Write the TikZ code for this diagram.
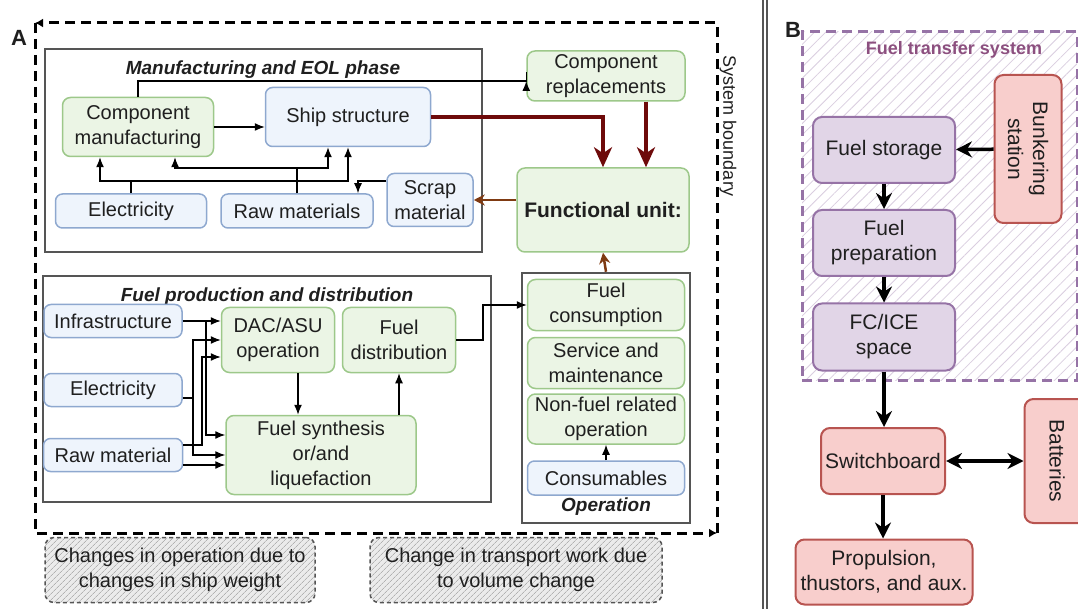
\documentclass[tikz,border=0pt]{standalone}
\usepackage{fontspec}
\setmainfont{Liberation Sans}
\usetikzlibrary{arrows.meta,patterns.meta}
\definecolor{grnF}{HTML}{EBF5E5}
\definecolor{grnD}{HTML}{9DC88A}
\definecolor{bluF}{HTML}{EEF4FC}
\definecolor{bluD}{HTML}{8EA8CF}
\definecolor{purF}{HTML}{E1D5E7}
\definecolor{purD}{HTML}{9673A6}
\definecolor{redF}{HTML}{F8CECC}
\definecolor{redD}{HTML}{B85450}
\definecolor{frmG}{HTML}{555555}
\definecolor{dRed}{HTML}{6E0A0A}
\definecolor{brn}{HTML}{7F3A12}
\definecolor{purT}{HTML}{8C4F7F}
\definecolor{txt}{HTML}{1F1F1F}
\tikzset{
    every node/.style={font=\fontsize{20}{25}\selectfont, text=txt},
    GR1/.style ={rectangle, rounded corners=8pt, draw=grnD, fill=grnF, line width=1.5pt, align=center, inner sep=1pt},
    BL1/.style ={rectangle, rounded corners=7pt, draw=bluD, fill=bluF, line width=1.5pt, align=center, inner sep=1pt},
    PU1/.style ={rectangle, rounded corners=9pt, draw=purD, fill=purF, line width=2pt, align=center, font=\fontsize{21}{25}\selectfont},
    RE1/.style ={rectangle, rounded corners=9pt, draw=redD, fill=redF, line width=2pt, align=center, font=\fontsize{21}{25}\selectfont},
    FR1/.style ={rectangle, draw=frmG, line width=2.5pt},
    TT1/.style ={font=\fontsize{19}{22}\selectfont\bfseries\itshape},
    NT1/.style ={rectangle, rounded corners=9pt, draw=frmG, line width=1.5pt, dash pattern=on 4pt off 3pt,
        preaction={fill=black!8}, pattern={Lines[angle=45,distance=4pt,line width=0.7pt]}, pattern color=black!30, align=center},
    SB1/.style ={draw=black, line width=3pt, dash pattern=on 10pt off 6pt, -{Latex[length=8pt,width=9pt]}},
    AR1/.style ={-{Latex[length=10pt,width=8pt]}, line width=1.3pt},
    AR2/.style ={-{Stealth[length=20pt,width=18pt,inset=6pt]}, line width=4pt, draw=dRed},
    AR3/.style ={-{Stealth[length=11pt,width=11pt]}, line width=2.5pt, draw=brn},
    AR4/.style ={-{Stealth[length=16pt,width=16pt]}, line width=3.5pt}
}
\begin{document}
\begin{tikzpicture}[x=1pt,y=-1pt]
        \useasboundingbox (0,0) rectangle (1078,609);
        \node[font=\fontsize{22}{26}\selectfont\bfseries] (lblA) at (19,38) {A};
        \coordinate (sbNW) at (35,23);
        \coordinate (sbNE) at (717,23);
        \coordinate (sbSW) at (35,533);
        \coordinate (sbSE) at (717,533);
        \draw[SB1] (sbSE) -- (sbNE) -- (sbNW);
        \draw[SB1] (sbNW) -- (sbSW) -- (sbSE);
        \node[rotate=-90, font=\fontsize{18}{20}\selectfont] (sbl) at (728,126) {System boundary};
        \node[FR1, minimum width=437pt, minimum height=203pt] (mfg) at (263.5,150.5) {};
        \node[TT1] (mfgT) at (263,70) {Manufacturing and EOL phase};
        \node[GR1, minimum width=151pt, minimum height=59pt] (cman) at (138,127) {Component\\manufacturing};
        \node[BL1, minimum width=165pt, minimum height=59pt] (ship) at (348,117) {Ship structure};
        \node[BL1, minimum width=151pt, minimum height=34pt] (elec1) at (131,211) {Electricity};
        \node[BL1, minimum width=152pt, minimum height=34pt] (raw1) at (297,211) {Raw materials};
        \node[BL1, minimum width=86pt, minimum height=53pt] (scrap) at (430,200) {Scrap\\material};
        \node[GR1, minimum width=158pt, minimum height=50pt] (crep) at (606,76) {Component\\replacements};
        \node[GR1, minimum width=172pt, minimum height=84pt, font=\fontsize{21}{25}\selectfont\bfseries] (func) at (603,210) {Functional unit:};
        \draw[AR1] (cman.east) -- (cman.east -| ship.west);
        \draw[AR1] (cman.north) |- (crep.west |- 0,81) -- (crep.west |- 0,81);
        \draw[AR2] (ship.east) -| (func.north);
        \draw[AR2] ([xshift=40pt]crep.south) -- ([xshift=40pt]crep.south |- func.north);
        \draw[AR3] (func.west |- scrap.east) -- (scrap.east);
        \draw[AR1] (elec1.north) |- (100,181) -- (100,181 |- cman.south);
        \draw[AR1] (elec1.north) |- (348,181) -- (348,181 |- ship.south);
        \draw[AR1] (raw1.north) |- (175,168) -- (175,168 |- cman.south);
        \draw[AR1] (raw1.north) |- (328,168) -- (328,168 |- ship.south);
        \draw[AR1] (scrap.west |- 0,181) -| (358,0 |- raw1.north);
        \node[FR1, minimum width=448pt, minimum height=226pt] (fpd) at (267,389) {};
        \node[TT1] (fpdT) at (267,297) {Fuel production and distribution};
        \node[BL1, minimum width=138pt, minimum height=33pt] (infra) at (113,321) {Infrastructure};
        \node[BL1, minimum width=138pt, minimum height=33pt] (elec2) at (113,390) {Electricity};
        \node[BL1, minimum width=139pt, minimum height=33pt] (rawm) at (113,455) {Raw material};
        \node[GR1, minimum width=113pt, minimum height=65pt] (dac) at (278,340) {DAC/ASU\\operation};
        \node[GR1, minimum width=113pt, minimum height=65pt] (fdist) at (399,340) {Fuel\\distribution};
        \node[GR1, minimum width=190pt, minimum height=79pt] (fsyn) at (321,455) {Fuel synthesis\\or/and\\liquefaction};
        \draw[AR1] (infra.east) -- (infra.east -| dac.west);
        \draw[AR1] (infra.east) -| (206,435) -- (206,435 -| fsyn.west);
        \draw[AR1] ([yshift=-8pt]elec2.east) -| (193,340) -- (193,340 -| dac.west);
        \draw[AR1] ([yshift=-8pt]elec2.east) -| (193,455) -- (193,455 -| fsyn.west);
        \draw[AR1] ([yshift=10pt]rawm.east) -| (202,357) -- (202,357 -| dac.west);
        \draw[AR1] ([yshift=-10pt]rawm.east) -- ([yshift=-10pt]rawm.east -| fsyn.west);
        \draw[AR1] ([xshift=20pt]dac.south) -- ([xshift=20pt]dac.south |- fsyn.north);
        \draw[AR1] (fdist.south |- fsyn.north) -- (fdist.south);
        \node[FR1, minimum width=168pt, minimum height=250pt] (ops) at (606,398) {};
        \node[GR1, minimum width=157pt, minimum height=51pt] (fcons) at (606,305) {Fuel\\consumption};
        \node[GR1, minimum width=157pt, minimum height=51pt] (serv) at (606,363) {Service and\\maintenance};
        \node[GR1, minimum width=157pt, minimum height=50pt] (nonf) at (606,419) {Non-fuel related\\operation};
        \node[BL1, minimum width=157pt, minimum height=34pt] (cons) at (606,478) {Consumables};
        \node[TT1] (opsT) at (606,507) {Operation};
        \draw[AR1] (cons.north) -- (nonf.south);
        \draw[AR1] (fdist.east) -| (483,0 |- fcons.west) -- (fcons.west);
        \draw[AR3] (ops.north) -- (func.south);
        \node[NT1, minimum width=270pt, minimum height=65pt] (nt1) at (180,570) {Changes in operation due to\\changes in ship weight};
        \node[NT1, minimum width=292pt, minimum height=65pt] (nt2) at (516,570) {Change in transport work due\\to volume change};
        \draw[frmG, line width=1.2pt] (763,0) -- (763,609);
        \draw[frmG, line width=1.2pt] (767,0) -- (767,609);
        \node[font=\fontsize{22}{26}\selectfont\bfseries] (lblB) at (793,30) {B};
        \node[rectangle, draw=purD, line width=3pt, dash pattern=on 10pt off 6pt, preaction={fill=white},
            pattern={Lines[angle=45,distance=8pt,line width=0.8pt]}, pattern color=purD!35,
            minimum width=275pt, minimum height=348pt] (fts) at (939.5,206) {};
        \node[font=\fontsize{18}{22}\selectfont\bfseries, text=purT] (ftsT) at (954,50) {Fuel transfer system};
        \node[PU1, minimum width=142pt, minimum height=66pt] (fst) at (884,150) {Fuel storage};
        \node[RE1, rotate=-90, minimum width=148pt, minimum height=67pt] (bunk) at (1028,149) {Bunkering\\station};
        \node[PU1, minimum width=142pt, minimum height=66pt] (fprep) at (884,243) {Fuel\\preparation};
        \node[PU1, minimum width=142pt, minimum height=67pt] (fcice) at (884,337) {FC/ICE\\space};
        \node[RE1, minimum width=124pt, minimum height=66pt] (swb) at (883,461) {Switchboard};
        \node[RE1, rotate=-90, minimum width=124pt, minimum height=65pt] (batt) at (1057,461) {Batteries};
        \node[RE1, minimum width=177pt, minimum height=65pt] (prop) at (884,572) {Propulsion,\\thustors, and aux.};
        \draw[AR4] (bunk) -- (fst);
        \draw[AR4] (fst) -- (fprep);
        \draw[AR4] (fprep) -- (fcice);
        \draw[AR4] (fcice.south) -- (fcice.south |- swb.north);
        \draw[AR4, {Stealth[length=16pt,width=16pt]}-{Stealth[length=16pt,width=16pt]}] (swb) -- (batt);
        \draw[AR4] (swb.south) -- (swb.south |- prop.north);
\end{tikzpicture}
\end{document}
